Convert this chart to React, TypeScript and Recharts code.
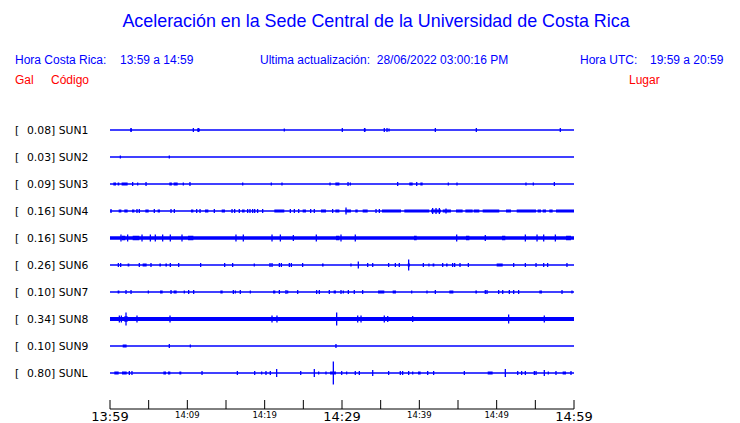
import { ComposedChart, Line, XAxis, YAxis } from 'recharts'

// station table, top to bottom
const codes = ['SUN1', 'SUN2', 'SUN3', 'SUN4', 'SUN5', 'SUN6', 'SUN7', 'SUN8', 'SUN9', 'SUNL']
const gals = ['0.08', '0.03', '0.09', '0.16', '0.16', '0.26', '0.10', '0.34', '0.10', '0.80']
const places = [
  'CIMAR',
  'Ingenieria P01',
  'Ingenieria P06',
  'EBCI',
  'Rectoria',
  'Agroalimentarias',
  'Archivo',
  'Electrica P06',
  'Electrica P01',
  'LANAMME-CTT',
]

// minutes after 13:59
const timeTicks = [0, 5, 10, 15, 20, 25, 30, 35, 40, 45, 50, 55, 60]
const bigLabels: Record<number, string> = { 0: '13:59', 30: '14:29', 60: '14:59' }
const smallLabels: Record<number, string> = { 10: '14:09', 20: '14:19', 40: '14:39', 50: '14:49' }

// spikes: [minute, amplitude], bursts: [from, to] minute
const spikes1 = [[2.72, 2], [10.78, 2], [11.42, 2], [22.54, 1.5], [30.04, 2], [32.93, 2], [35.47, 2], [35.82, 2], [36.08, 1.5], [42.07, 2], [47.37, 2], [58.23, 2]]
const bursts1 = [[2.62, 2.85], [11.28, 11.62], [32.82, 33.05]]

const spikes2 = [[1.34, 1.5], [7.67, 1.5]]
const bursts2: number[][] = []

const spikes3 = [[2.93, 2], [3.58, 1.5], [4.66, 2], [9.48, 1.5], [10.34, 2], [17.16, 1.5], [20.86, 1.5], [22.24, 1.5], [28.45, 1.5], [30.78, 2], [31.08, 1.5], [37.2, 2], [39.66, 2], [43.75, 1.5], [44.87, 1.5], [53.79, 1.5], [54.74, 1.5], [57.46, 2]]
const bursts3 = [[0.43, 0.78], [0.99, 1.2], [1.5, 2.28], [7.67, 8.0], [8.23, 8.75], [29.14, 29.66], [38.7, 39.14], [40.13, 40.43]]

const spikes4 = [[0.13, 2], [3.49, 2], [3.79, 2], [5.73, 2], [7.89, 2], [8.32, 2], [11.21, 2], [11.64, 2], [13.49, 2], [15.78, 2], [16.12, 2], [16.72, 2], [17.8, 2], [18.1, 2], [18.45, 2], [18.71, 2], [19.09, 2], [19.74, 2], [23.32, 2], [23.84, 2], [24.4, 2], [25.95, 2], [26.42, 2], [28.79, 2], [30.52, 3.5], [34.4, 2], [34.83, 2], [41.72, 3], [42.16, 3], [42.59, 3], [43.45, 2.5]]
const bursts4 = [[1.12, 1.47], [1.85, 2.28], [2.84, 3.15], [4.57, 5.0], [6.16, 6.47], [10.47, 10.78], [12.28, 12.72], [14.44, 14.87], [17.07, 17.41], [21.25, 22.54], [24.91, 25.34], [27.28, 27.93], [29.14, 29.66], [30.43, 31.16], [31.72, 32.03], [32.67, 33.32], [35.17, 37.63], [38.06, 41.29], [41.51, 42.8], [43.02, 44.09], [44.74, 45.6], [45.95, 46.9], [47.03, 47.76], [48.19, 50.34], [51.21, 51.85], [52.59, 55.09], [55.3, 55.73], [55.95, 56.38], [56.81, 57.24], [57.67, 60]]

const spikes5 = [[1.42, 3.5], [2.28, 3.5], [4.14, 3.5], [5.22, 3.5], [5.86, 3.5], [6.81, 3.5], [7.8, 3.5], [9.31, 3.5], [16.29, 3.5], [17.24, 3.5], [20.95, 3.5], [22.03, 3.5], [23.71, 3], [26.68, 3.5], [29.87, 3.5], [31.72, 3.5], [44.83, 3.5], [48.53, 3], [53.71, 3.5], [55.22, 3.5], [56.08, 3.5], [57.59, 3.5]]
const bursts5 = [[1.55, 1.98], [2.93, 3.79], [10.09, 10.78], [29.22, 29.66], [39.31, 39.66], [46.03, 46.47], [50.69, 51.12], [58.97, 59.61]]

const spikes6 = [[1.08, 2], [1.38, 2], [3.79, 2], [5.3, 2], [7.8, 2], [8.88, 2], [11.72, 2], [14.83, 2], [15.86, 2], [18.66, 1.5], [20.69, 2], [20.95, 2], [21.9, 2], [22.16, 2], [23.19, 2], [23.45, 2], [24.91, 2], [31.16, 1.5], [32.11, 3.5], [33.32, 2], [33.97, 2], [36.03, 2], [36.9, 2], [37.41, 2], [38.62, 5.5], [40.52, 2], [43.02, 2], [44.31, 2], [44.57, 2], [45.26, 2], [46.34, 2], [52.2, 2], [53.71, 2], [55.09, 2], [56.08, 2], [56.59, 2], [59.09, 2]]
const bursts6 = [[2.28, 2.5], [4.22, 4.74], [6.38, 6.59], [7.16, 7.37], [27.41, 27.62], [38.5, 38.8], [41.16, 41.32], [41.72, 41.94], [43.45, 43.66], [50.0, 50.78]]

const spikes7 = [[2.07, 2], [2.72, 2], [4.96, 1.5], [7.89, 2], [9.61, 1.5], [10.17, 2], [10.82, 2], [15.95, 2], [16.21, 1.5], [16.85, 2], [18.15, 1.5], [21.9, 2], [22.76, 2], [22.97, 1.5], [24.27, 2], [26.72, 2], [27.07, 2], [28.36, 2], [29.87, 2], [30.17, 1.5], [30.82, 2], [31.59, 2], [32.67, 2], [39.01, 1.5], [40.99, 1.5], [42.07, 2], [48.53, 2], [48.75, 2], [50.26, 2], [50.78, 2], [51.64, 2], [52.2, 2], [52.84, 2], [58.45, 2], [59.74, 1.5]]
const bursts7 = [[0.99, 1.21], [6.47, 6.81], [8.23, 8.62], [14.27, 14.57], [21.08, 21.38], [28.92, 29.22], [34.66, 35.47], [36.55, 36.98], [43.88, 44.4], [47.24, 47.46], [55.52, 55.86]]

const spikes8 = [[1.21, 3.5], [1.47, 3.5], [2.07, 6.5], [3.49, 3.5], [7.76, 3.5], [20.95, 3.5], [21.59, 3.5], [29.31, 6.5], [32.03, 3.5], [32.46, 3.5], [35.47, 3.5], [35.91, 3], [39.14, 3], [51.55, 4.5], [56.16, 3.5]]
const bursts8 = [[1.85, 2.28]]

const spikes9 = [[7.67, 2], [10.39, 1.5], [29.22, 2]]
const bursts9 = [[1.64, 2.15]]

const spikesL = [[2.5, 2], [2.84, 2], [11.9, 2], [16.47, 2], [18.71, 2], [19.61, 1.5], [20.17, 2], [20.73, 2], [21.55, 4], [24.66, 2], [26.42, 4], [26.98, 1.5], [27.93, 1.5], [28.88, 11.5], [29.96, 2], [30.6, 1.5], [31.72, 2], [32.24, 2], [33.97, 3], [36.03, 2], [37.54, 2], [37.84, 2], [38.62, 2], [39.14, 1.5], [41.08, 2], [41.85, 2], [45.82, 2], [51.12, 4], [52.72, 2], [53.23, 2], [53.71, 2], [54.87, 2], [55.09, 2], [56.16, 3], [56.68, 1.5], [57.67, 2], [59.61, 2]]
const burstsL = [[0.56, 1.12], [1.55, 2.16], [6.9, 7.24], [7.5, 7.8], [8.97, 9.22], [28.45, 29.22], [39.83, 40.17], [48.84, 49.48], [58.53, 58.97]]

const allSpikes = [spikes1, spikes2, spikes3, spikes4, spikes5, spikes6, spikes7, spikes8, spikes9, spikesL]
const allBursts = [bursts1, bursts2, bursts3, bursts4, bursts5, bursts6, bursts7, bursts8, bursts9, burstsL]

// trace thickness per station (base line, bursts)
const baseWidth = [1.3, 1.3, 1.3, 1.3, 3.3, 1.3, 1.3, 4.2, 1.3, 1.3]
const burstWidth = [3, 3, 3, 3, 4.5, 3, 3, 5.5, 3, 3]

const BLUE = '#0000ff'
const ROW = 27
const rowValue = (k: number) => (codes.length - k) * ROW
const rowTicks = codes.map((_, k) => rowValue(k))
const rowIndex = (v: number) => codes.length - Math.round(v / ROW)

const AXIS_Y = 409

function LeftTick(props: any) {
  const k = rowIndex(props.payload.value)
  return (
    <g fontFamily="DejaVu Sans" fontSize={10.8} fill="#000">
      <text x={15} y={props.y} dy="0.36em">[</text>
      <text x={27} y={props.y} dy="0.36em">{`${gals[k]}] ${codes[k]}`}</text>
    </g>
  )
}

function RightTick(props: any) {
  const k = rowIndex(props.payload.value)
  return (
    <text x={587} y={props.y} dy="0.36em" fontFamily="DejaVu Sans" fontSize={10.5} fill="#000">
      {places[k]}
    </text>
  )
}

function TimeTick(props: any) {
  const v = props.payload.value
  return (
    <g>
      <line x1={props.x} x2={props.x} y1={AXIS_Y - 9} y2={AXIS_Y} stroke="#000" />
      {bigLabels[v] && (
        <text x={props.x} y={420.5} textAnchor="middle" fontFamily="DejaVu Sans" fontSize={13} fill="#000">
          {bigLabels[v]}
        </text>
      )}
      {smallLabels[v] && (
        <text x={props.x} y={418.3} textAnchor="middle" fontFamily="DejaVu Sans" fontSize={8.5} fill="#000">
          {smallLabels[v]}
        </text>
      )}
    </g>
  )
}

const txt = (left: number, top: number, color: string, s: string, size = 12) => (
  <div
    style={{
      position: 'absolute',
      left,
      top,
      color,
      fontSize: size,
      lineHeight: '1',
      whiteSpace: 'pre',
      fontFamily: '"Liberation Sans", Arial, sans-serif',
    }}
  >
    {s}
  </div>
)

export default function App() {
  return (
    <div style={{ position: 'absolute', left: 0, top: 0, width: 740, height: 423, background: '#fff' }}>
      <div
        style={{
          position: 'absolute',
          left: 0,
          width: 752,
          top: 13,
          textAlign: 'center',
          color: BLUE,
          fontSize: 17.9,
          lineHeight: '1',
          fontFamily: '"Liberation Sans", Arial, sans-serif',
        }}
      >
        Aceleración en la Sede Central de la Universidad de Costa Rica
      </div>
      {txt(15, 54, BLUE, 'Hora Costa Rica:')}
      {txt(120, 54, BLUE, '13:59 a 14:59')}
      {txt(260, 54, BLUE, 'Ultima actualización:  28/06/2022 03:00:16 PM')}
      {txt(580, 54, BLUE, 'Hora UTC:')}
      {txt(650, 54, BLUE, '19:59 a 20:59')}
      {txt(15, 74, '#ff0000', 'Gal')}
      {txt(51, 74, '#ff0000', 'Código')}
      {txt(629, 74, '#ff0000', 'Lugar')}

      <ComposedChart width={740} height={423} margin={{ top: 103, right: 0, bottom: 0, left: 0 }}>
        <XAxis
          dataKey="x"
          type="number"
          domain={[0, 60]}
          ticks={timeTicks}
          interval={0}
          height={14}
          axisLine={{ stroke: '#000' }}
          tickLine={false}
          tick={<TimeTick />}
        />
        <YAxis
          yAxisId="left"
          type="number"
          domain={[-9, 297]}
          ticks={rowTicks}
          interval={0}
          width={110}
          axisLine={false}
          tickLine={false}
          tick={<LeftTick />}
        />
        <YAxis
          yAxisId="right"
          orientation="right"
          type="number"
          domain={[-9, 297]}
          ticks={rowTicks}
          interval={0}
          width={166}
          axisLine={false}
          tickLine={false}
          tick={<RightTick />}
        />
        {codes.map((code, k) => {
          const b = rowValue(k)
          return (
            <Line
              key={`base-${code}`}
              yAxisId="left"
              data={[{ x: 0, y: b }, { x: 60, y: b }]}
              dataKey="y"
              stroke={BLUE}
              strokeWidth={baseWidth[k]}
              dot={false}
              activeDot={false}
              isAnimationActive={false}
            />
          )
        })}
        {codes.map((code, k) => {
          const b = rowValue(k)
          const data = allBursts[k].flatMap(([t1, t2]) => [
            { x: t1, y: b },
            { x: t2, y: b },
            { x: t2, y: null },
          ])
          return (
            <Line
              key={`burst-${code}`}
              yAxisId="left"
              data={data}
              dataKey="y"
              stroke={BLUE}
              strokeWidth={burstWidth[k]}
              strokeLinecap="butt"
              connectNulls={false}
              dot={false}
              activeDot={false}
              isAnimationActive={false}
            />
          )
        })}
        {codes.map((code, k) => {
          const b = rowValue(k)
          const data = allSpikes[k].flatMap(([t, a]) => [
            { x: t, y: b + a },
            { x: t, y: b - a },
            { x: t, y: null },
          ])
          return (
            <Line
              key={`spike-${code}`}
              yAxisId="left"
              data={data}
              dataKey="y"
              stroke={BLUE}
              strokeWidth={1.3}
              strokeLinecap="butt"
              connectNulls={false}
              dot={false}
              activeDot={false}
              isAnimationActive={false}
            />
          )
        })}
      </ComposedChart>
    </div>
  )
}
